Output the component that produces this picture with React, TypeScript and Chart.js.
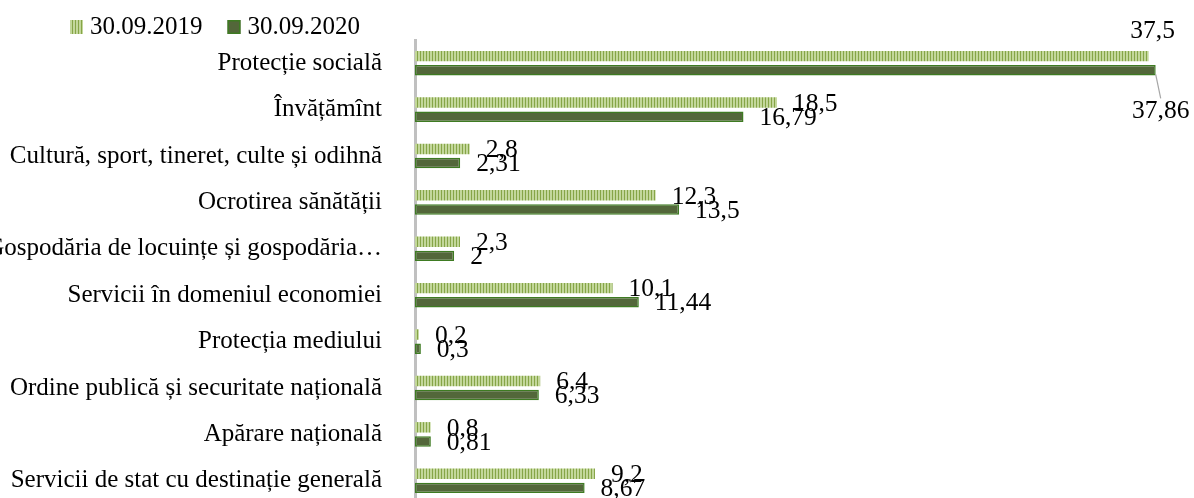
import React, { useEffect, useRef } from "react";
import { Chart, registerables } from "chart.js";

Chart.register(...registerables);

const categories = [
  "Protecție socială",
  "Învățămînt",
  "Cultură, sport, tineret, culte și odihnă",
  "Ocrotirea sănătății",
  "Gospodăria de locuințe și gospodăria…",
  "Servicii în domeniul economiei",
  "Protecția mediului",
  "Ordine publică și securitate națională",
  "Apărare națională",
  "Servicii de stat cu destinație generală",
];

const seriesLabels = ["30.09.2019", "30.09.2020"];
const values2019 = [37.5, 18.5, 2.8, 12.3, 2.3, 10.1, 0.2, 6.4, 0.8, 9.2];
const values2020 = [37.86, 16.79, 2.31, 13.5, 2, 11.44, 0.3, 6.33, 0.81, 8.67];

const FAMILY = "'Liberation Serif'";
const FONT = `25px ${FAMILY}`;
const LABEL_FONT = `25.5px ${FAMILY}`;
const LIGHT = "#c3d79b";
const STRIPE = "#86a547";
const DARK_FILL = "#53673a";
const DARK_BORDER = "#3e7b22";

function makeStripePattern(ctx: CanvasRenderingContext2D): CanvasPattern | string {
  const c = document.createElement("canvas");
  c.width = 3;
  c.height = 4;
  const g = c.getContext("2d");
  if (!g) return LIGHT;
  g.fillStyle = LIGHT;
  g.fillRect(0, 0, 3, 4);
  g.fillStyle = STRIPE;
  g.fillRect(0, 0, 1, 4);
  return ctx.createPattern(c, "repeat") || LIGHT;
}

const fmt = (v: number) => String(v).replace(".", ",");

export default function App() {
  const ref = useRef<HTMLCanvasElement | null>(null);

  useEffect(() => {
    const canvas = ref.current;
    if (!canvas) return;
    const ctx = canvas.getContext("2d");
    if (!ctx) return;
    const pattern = makeStripePattern(ctx);

    const labelPlugin = {
      id: "valueLabels",
      afterDraw(chart: any) {
        const c = chart.ctx as CanvasRenderingContext2D;
        c.save();
        c.font = LABEL_FONT;
        c.fillStyle = "#000";
        chart.data.datasets.forEach((ds: any, di: number) => {
          const meta = chart.getDatasetMeta(di);
          meta.data.forEach((bar: any, i: number) => {
            const v = ds.data[i] as number;
            const text = fmt(v);
            if (i === 0) {
              c.textAlign = "center";
              c.textBaseline = "middle";
              if (di === 0) {
                c.fillText(text, bar.x + 4, bar.y - 25);
              } else {
                c.fillText(text, bar.x + 5, bar.y + 41);
                c.strokeStyle = "#a6a6a6";
                c.lineWidth = 1.2;
                c.beginPath();
                c.moveTo(bar.x, bar.y + 4);
                c.lineTo(bar.x + 5, bar.y + 28);
                c.stroke();
              }
            } else {
              c.textAlign = "left";
              c.textBaseline = "middle";
              c.fillText(text, bar.x + 16, bar.y + 1.5);
            }
          });
        });
        c.restore();
      },
    };

    const legendPlugin = {
      id: "customLegend",
      afterDraw(chart: any) {
        const c = chart.ctx as CanvasRenderingContext2D;
        c.save();
        c.font = FONT;
        c.textBaseline = "middle";
        c.textAlign = "left";
        let x = 70;
        const yc = 27;
        chart.data.datasets.forEach((ds: any, di: number) => {
          if (di === 0) {
            c.fillStyle = pattern as any;
            c.fillRect(x, yc - 7, 13, 14);
          } else {
            c.fillStyle = DARK_FILL;
            c.fillRect(x, yc - 7, 13, 14);
            c.strokeStyle = DARK_BORDER;
            c.lineWidth = 1.5;
            c.strokeRect(x + 0.75, yc - 6.25, 11.5, 12.5);
          }
          x += 20;
          c.fillStyle = "#000";
          c.fillText(ds.label, x, yc);
          x += c.measureText(ds.label).width + 25;
        });
        c.restore();
      },
    };

    const chart = new Chart(ctx, {
      type: "bar",
      data: {
        labels: categories,
        datasets: [
          {
            label: seriesLabels[0],
            data: values2019,
            backgroundColor: pattern as any,
            borderWidth: 0,
            categoryPercentage: 0.61,
            barPercentage: 0.74,
          },
          {
            label: seriesLabels[1],
            data: values2020,
            backgroundColor: DARK_FILL,
            borderColor: DARK_BORDER,
            borderWidth: 1.5,
            borderSkipped: false,
            categoryPercentage: 0.61,
            barPercentage: 0.74,
          },
        ],
      },
      options: {
        indexAxis: "y",
        responsive: true,
        maintainAspectRatio: false,
        animation: false,
        layout: { autoPadding: false, padding: { top: 34, right: 16, bottom: 0, left: 0 } },
        plugins: {
          legend: { display: false },
          tooltip: { enabled: false },
        },
        scales: {
          x: {
            display: false,
            min: 0,
            max: 39,
          },
          y: {
            afterFit(scale: any) {
              scale.width = 415;
            },
            grid: { display: false },
            border: { display: true, color: "#c0c0c0", width: 3 },
            ticks: {
              color: "#000",
              font: { family: FAMILY, size: 25 },
              padding: 25,
              autoSkip: false,
            },
          },
        },
      },
      plugins: [labelPlugin, legendPlugin],
    });

    return () => chart.destroy();
  }, []);

  return (
    <div
      style={{
        position: "absolute",
        left: 0,
        top: 0,
        width: 1194,
        height: 498,
        overflow: "hidden",
        background: "#fff",
      }}
    >
      <div style={{ position: "relative", width: 1194, height: 544 }}>
        <canvas ref={ref} />
      </div>
    </div>
  );
}
